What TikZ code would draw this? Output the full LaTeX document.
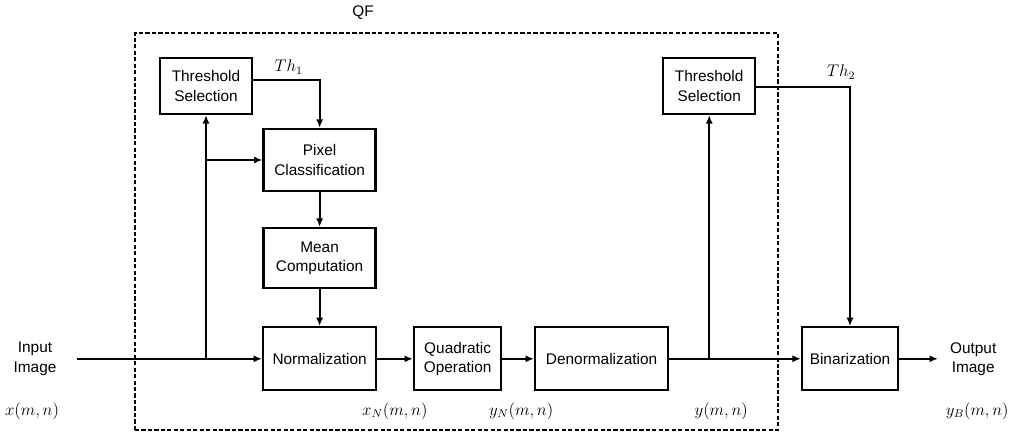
\documentclass[tikz,border=0pt,11pt]{standalone}
\usepackage{fontspec}
\setmainfont{Liberation Sans}
\usetikzlibrary{arrows.meta}

\begin{document}
\begin{tikzpicture}[
  block/.style={draw, line width=1.6pt, align=center, inner sep=2pt,
    minimum width=2.3cm, minimum height=1.575cm},
  flow/.style={line width=1.4pt, -{Latex[length=6pt,width=5pt]}},
  signal/.style={font=\large}
]
\useasboundingbox (0,0) rectangle (25.35,10.8);

% Zona punteada del bloque QF
\coordinate (QFsw) at (3.375,0.05);
\coordinate (QFne) at (19.45,9.975);
\draw[line width=1.1pt, dash pattern=on 3pt off 1.6pt] (QFsw) rectangle (QFne);
\node (qf) at (9.075,10.475) {QF};

\node[block, minimum height=1.4cm] (thrA) at (5.15,8.65) {Threshold\\Selection};
\node[block, minimum width=2.8cm, minimum height=1.55cm] (pix) at (7.99,6.8) {Pixel\\Classification};
\node[block, minimum width=2.8cm, minimum height=1.5cm] (mean) at (7.99,4.35) {Mean\\Computation};
\node[block, minimum width=2.825cm] (norm) at (7.99,1.83) {Normalization};
\node[block, minimum width=2.175cm] (quad) at (11.44,1.83) {Quadratic\\Operation};
\node[block, minimum width=3.325cm] (denorm) at (15.04,1.83) {Denormalization};
\node[block, minimum width=2.3cm, minimum height=1.4cm] (thrB) at (17.73,8.65) {Threshold\\Selection};
\node[block, minimum width=2.4cm] (bin) at (21.25,1.83) {Binarization};

\node[align=center] (input) at (0.875,1.83) {Input\\Image};
\node[align=center] (output) at (24.33,1.83) {Output\\Image};

\coordinate (in) at (1.925,1.83);
\coordinate (out) at (23.45,1.83);
\coordinate (split) at (thrA.south |- norm.west);
\coordinate (tap) at (split |- pix.west);
\coordinate (tapB) at (thrB.south |- denorm.east);

\draw[flow] (in) -- (norm);
\draw[flow] (split) -- (thrA);
\draw[flow] (tap) -- (pix);
\draw[flow] ([yshift=4.3pt]thrA.east) -| (pix);
\draw[flow] (pix) -- (mean);
\draw[flow] (mean) -- (norm);
\draw[flow] (norm) -- (quad);
\draw[flow] (quad) -- (denorm);
\draw[flow] (denorm) -- (bin);
\draw[flow] (tapB) -- (thrB);
\draw[flow] ([yshift=-1pt]thrB.east) -| (bin);
\draw[flow] (bin) -- (out);

\node[signal] (thA) at (7.22,9.125) {$Th_1$};
\node[signal] (thB) at (21.03,9.0) {$Th_2$};
\node[signal] (sx) at (0.8,0.52) {$x(m,n)$};
\node[signal] (sxn) at (9.87,0.52) {$x_N(m,n)$};
\node[signal] (syn) at (13.03,0.52) {$y_N(m,n)$};
\node[signal] (sy) at (18.03,0.52) {$y(m,n)$};
\node[signal] (syb) at (24.43,0.52) {$y_B(m,n)$};

\end{tikzpicture}
\end{document}
